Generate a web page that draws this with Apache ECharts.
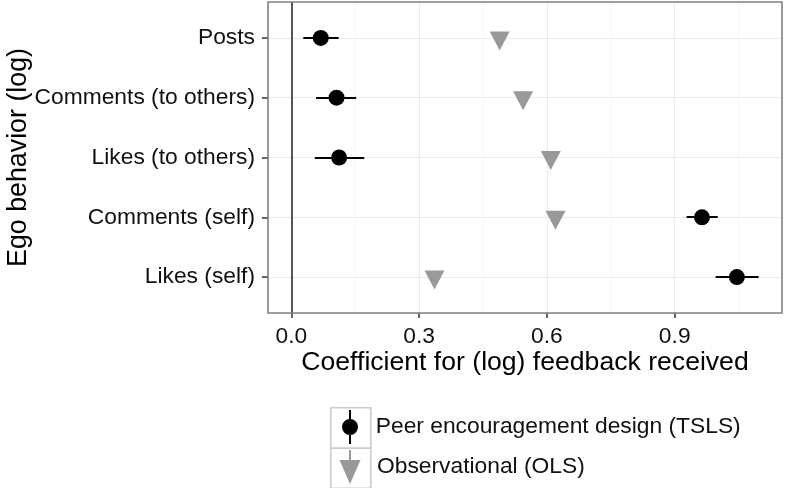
<!DOCTYPE html>
<html>
<head>
<meta charset="utf-8">
<script src="https://cdn.jsdelivr.net/npm/echarts@6/dist/echarts.min.js"></script>
<style>
html,body{margin:0;padding:0;background:#fff;}
#chart{width:793px;height:488px;}
</style>
</head>
<body>
<div id="chart"></div>
<script>
const categories = ['Posts', 'Comments (to others)', 'Likes (to others)', 'Comments (self)', 'Likes (self)'];
const tslsEst  = [0.069, 0.106, 0.112, 0.964, 1.046];
const tslsLow  = [0.028, 0.058, 0.055, 0.928, 0.996];
const tslsHigh = [0.111, 0.152, 0.171, 1.001, 1.097];
const olsEst   = [0.489, 0.544, 0.609, 0.620, 0.336];
const xTicks = [0, 0.3, 0.6, 0.9];
const xMinorTicks = [0.15, 0.45, 0.75, 1.05];
const seriesNames = ['Peer encouragement design (TSLS)', 'Observational (OLS)'];

const FONT = '"Liberation Sans", Arial, Helvetica, sans-serif';
const catIdx = categories.map((c, i) => i);

const gridLines = [
  ...xMinorTicks.map(v => ({ xAxis: v, lineStyle: { color: '#f4f4f4', width: 0.8 } })),
  ...xTicks.filter(v => v !== 0).map(v => ({ xAxis: v, lineStyle: { color: '#ebebeb', width: 1.1 } })),
  ...catIdx.map(i => ({ yAxis: i, lineStyle: { color: '#ebebeb', width: 1.1 } }))
];

const legendIcons = [
  'path://M7,0 L9,0 L9,34 L7,34 Z M8,9 A8,8 0 1,1 8,25 A8,8 0 1,1 8,9 Z',
  'path://M9.5,0 L11.5,0 L11.5,12 L9.5,12 Z M0,10 L21,10 L10.5,34 Z'
];
const legendColors = ['#000', '#999'];
const legendLayout = [
  { left: 342, top: 410, itemWidth: 33.5 },
  { left: 339.5, top: 450, itemWidth: 36 }
];

const chart = echarts.init(document.getElementById('chart'), null, { renderer: 'canvas' });
chart.setOption({
  animation: false,
  backgroundColor: '#fff',
  textStyle: { fontFamily: FONT },
  grid: {
    left: 268, right: 11, top: 2, bottom: 175,
    outerBoundsMode: 'none', containLabel: false,
    show: true, borderColor: '#7f7f7f', borderWidth: 1.6, backgroundColor: 'transparent', z: 10
  },
  xAxis: {
    type: 'value', min: -0.0549, max: 1.1519,
    name: 'Coefficient for (log) feedback received',
    nameLocation: 'middle', nameGap: 36, nameMoveOverlap: false,
    nameTextStyle: { fontSize: 26.6, color: '#000', fontFamily: FONT },
    axisLine: { show: false, onZero: false },
    splitLine: { show: false },
    axisTick: { show: true, length: 5, customValues: xTicks, lineStyle: { color: '#333', width: 1.5 } },
    axisLabel: { customValues: xTicks, margin: 12, fontSize: 22.8, color: '#111', fontFamily: FONT,
      formatter: v => v.toFixed(1) }
  },
  yAxis: {
    type: 'value', min: -0.6, max: 4.6, inverse: true,
    name: 'Ego behavior (log)',
    nameLocation: 'middle', nameGap: 236, nameRotate: 90, nameMoveOverlap: false,
    nameTextStyle: { fontSize: 26.8, color: '#000', fontFamily: FONT },
    axisLine: { show: false, onZero: false },
    splitLine: { show: false },
    axisTick: { show: true, length: 6, customValues: catIdx, lineStyle: { color: '#333', width: 1.5 } },
    axisLabel: { customValues: catIdx, margin: 13, fontSize: 22.8, color: '#111', fontFamily: FONT,
      formatter: v => categories[Math.round(v)] }
  },
  legend: seriesNames.map((n, k) => ({
    orient: 'vertical',
    left: legendLayout[k].left, top: legendLayout[k].top, padding: 0,
    itemWidth: legendLayout[k].itemWidth, itemHeight: 34,
    textStyle: { fontSize: 22.8, color: '#111', fontFamily: FONT, padding: [6, 0, 0, 4] },
    selectedMode: false,
    data: [{ name: n, icon: legendIcons[k], itemStyle: { color: legendColors[k] } }]
  })),
  graphic: [
    { type: 'rect', left: 330, top: 407, shape: { width: 40, height: 40.5 }, style: { fill: '#fff', stroke: '#cccccc', lineWidth: 1.6 }, z: -1 },
    { type: 'rect', left: 330, top: 447.5, shape: { width: 40, height: 40 }, style: { fill: '#fff', stroke: '#cccccc', lineWidth: 1.6 }, z: -1 }
  ],
  series: [
    {
      name: 'gridlines', type: 'line', data: [], z: 1, silent: true,
      markLine: { z: 1, silent: true, symbol: ['none', 'none'], label: { show: false }, animation: false,
        lineStyle: { type: 'solid' }, data: gridLines }
    },
    {
      name: 'zero', type: 'line', data: [], z: 2, silent: true,
      markLine: { z: 2, silent: true, symbol: ['none', 'none'], label: { show: false }, animation: false,
        lineStyle: { type: 'solid', color: '#555', width: 2 }, data: [{ xAxis: 0 }] }
    },
    {
      name: 'tslsCI', type: 'custom', z: 3, silent: true,
      data: catIdx.map(i => [tslsLow[i], tslsHigh[i], i]),
      encode: { x: [0, 1], y: 2 },
      renderItem: (params, api) => {
        const a = api.coord([api.value(0), api.value(2)]);
        const b = api.coord([api.value(1), api.value(2)]);
        const y = Math.round(a[1]);
        return { type: 'line', shape: { x1: a[0], y1: y, x2: b[0], y2: y },
          style: { stroke: '#000', lineWidth: 2 } };
      }
    },
    {
      name: seriesNames[0], type: 'scatter', z: 5,
      symbol: 'circle', symbolSize: 16,
      itemStyle: { color: '#000', opacity: 1 },
      data: catIdx.map(i => [tslsEst[i], i])
    },
    {
      name: seriesNames[1], type: 'scatter', z: 4,
      symbol: 'path://M0,0 L20,0 L10,19 Z', symbolSize: [20, 19], symbolOffset: [0, 3],
      itemStyle: { color: '#999', opacity: 1 },
      data: catIdx.map(i => [olsEst[i], i])
    }
  ]
});
</script>
</body>
</html>
